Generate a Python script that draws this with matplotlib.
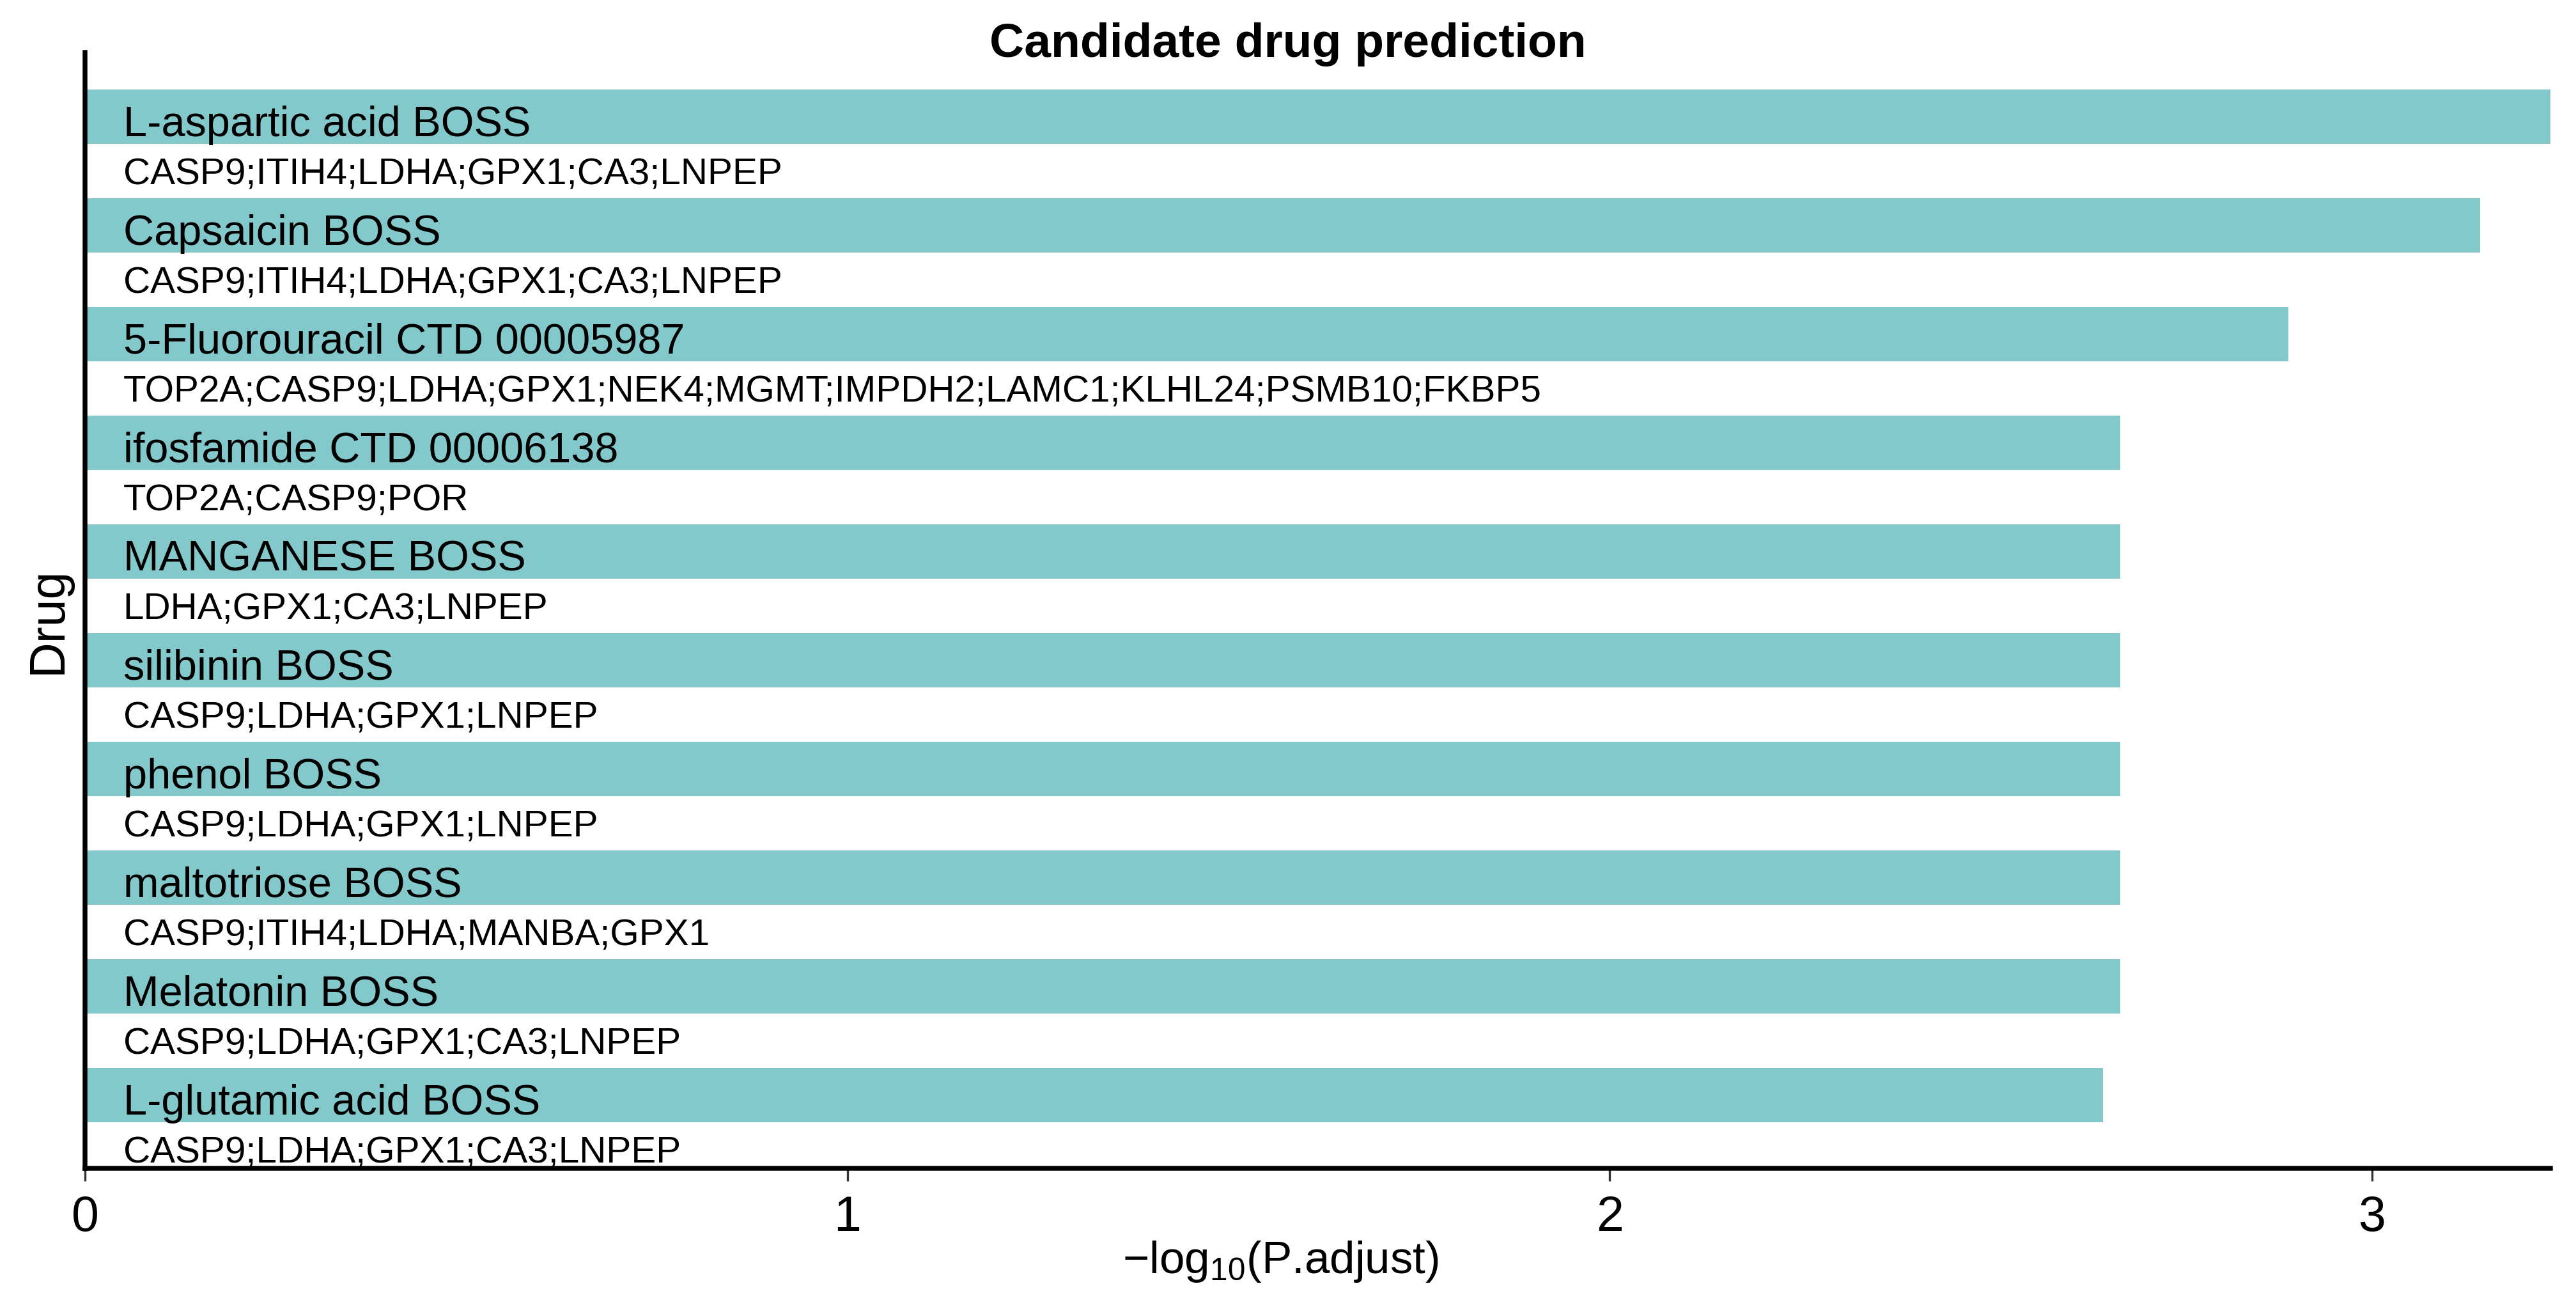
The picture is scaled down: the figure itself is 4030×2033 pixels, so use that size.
import matplotlib
matplotlib.use("Agg")
import matplotlib.pyplot as plt
import numpy as np

plt.rcParams['font.family'] = ['Liberation Sans', 'DejaVu Sans']
plt.rcParams['mathtext.fontset'] = 'custom'
plt.rcParams['mathtext.rm'] = 'Liberation Sans'
plt.rcParams['mathtext.it'] = 'Liberation Sans:italic'
plt.rcParams['mathtext.bf'] = 'Liberation Sans:bold'

drugs = ["L-aspartic acid BOSS", "Capsaicin BOSS", "5-Fluorouracil CTD 00005987",
         "ifosfamide CTD 00006138", "MANGANESE BOSS", "silibinin BOSS", "phenol BOSS",
         "maltotriose BOSS", "Melatonin BOSS", "L-glutamic acid BOSS"]
genes = ["CASP9;ITIH4;LDHA;GPX1;CA3;LNPEP",
         "CASP9;ITIH4;LDHA;GPX1;CA3;LNPEP",
         "TOP2A;CASP9;LDHA;GPX1;NEK4;MGMT;IMPDH2;LAMC1;KLHL24;PSMB10;FKBP5",
         "TOP2A;CASP9;POR",
         "LDHA;GPX1;CA3;LNPEP",
         "CASP9;LDHA;GPX1;LNPEP",
         "CASP9;LDHA;GPX1;LNPEP",
         "CASP9;ITIH4;LDHA;MANBA;GPX1",
         "CASP9;LDHA;GPX1;CA3;LNPEP",
         "CASP9;LDHA;GPX1;CA3;LNPEP"]
neglog_padj = [3.234, 3.142, 2.890, 2.670, 2.670, 2.670, 2.670, 2.670, 2.670, 2.647]
xticks = [0, 1, 2, 3]

W, H = 4030, 2033
dpi = 300
fig = plt.figure(figsize=(W / dpi, H / dpi), dpi=dpi)
ax = fig.add_axes([133 / W, 1 - 1827 / H, (3990 - 133) / W, (1827 - 82) / H])

n = len(drugs)
ypos = np.arange(n)[::-1].astype(float)
bar_color = '#83C8CB'
ax.barh(ypos, neglog_padj, height=0.5, color=bar_color, edgecolor='none')

for y, d, g in zip(ypos, drugs, genes):
    ax.text(0.05, y - 0.174, d, fontsize=16.0, va='baseline', ha='left', color='black')
    ax.text(0.05, y - 0.621, g, fontsize=14.0, va='baseline', ha='left', color='black')

ax.set_xlim(0, max(neglog_padj))
ax.set_ylim(-0.671, n - 1 + 0.594)
ax.set_xticks(xticks)
ax.set_xticklabels([str(t) for t in xticks], fontsize=18.5)
ax.set_yticks([])
ax.tick_params(axis='x', direction='out', length=4.8, width=0.8, color='#333333', pad=5)
for s in ['top', 'right']:
    ax.spines[s].set_visible(False)
for s in ['left', 'bottom']:
    ax.spines[s].set_linewidth(1.8)
    ax.spines[s].set_color('black')

fig.text(0.5, 1 - 89 / H, 'Candidate drug prediction', fontsize=18.0, fontweight='bold',
         ha='center', va='baseline')
fig.text(75 / W, 1 - 970 / H, 'Drug', fontsize=18.5, rotation=90, ha='center', va='center')
fig.text(2003 / W, 1 - 1973 / H, '\u2212log$_{10}$(P.adjust)', fontsize=17,
         ha='center', va='center')

fig.savefig('out.png', dpi=dpi)
